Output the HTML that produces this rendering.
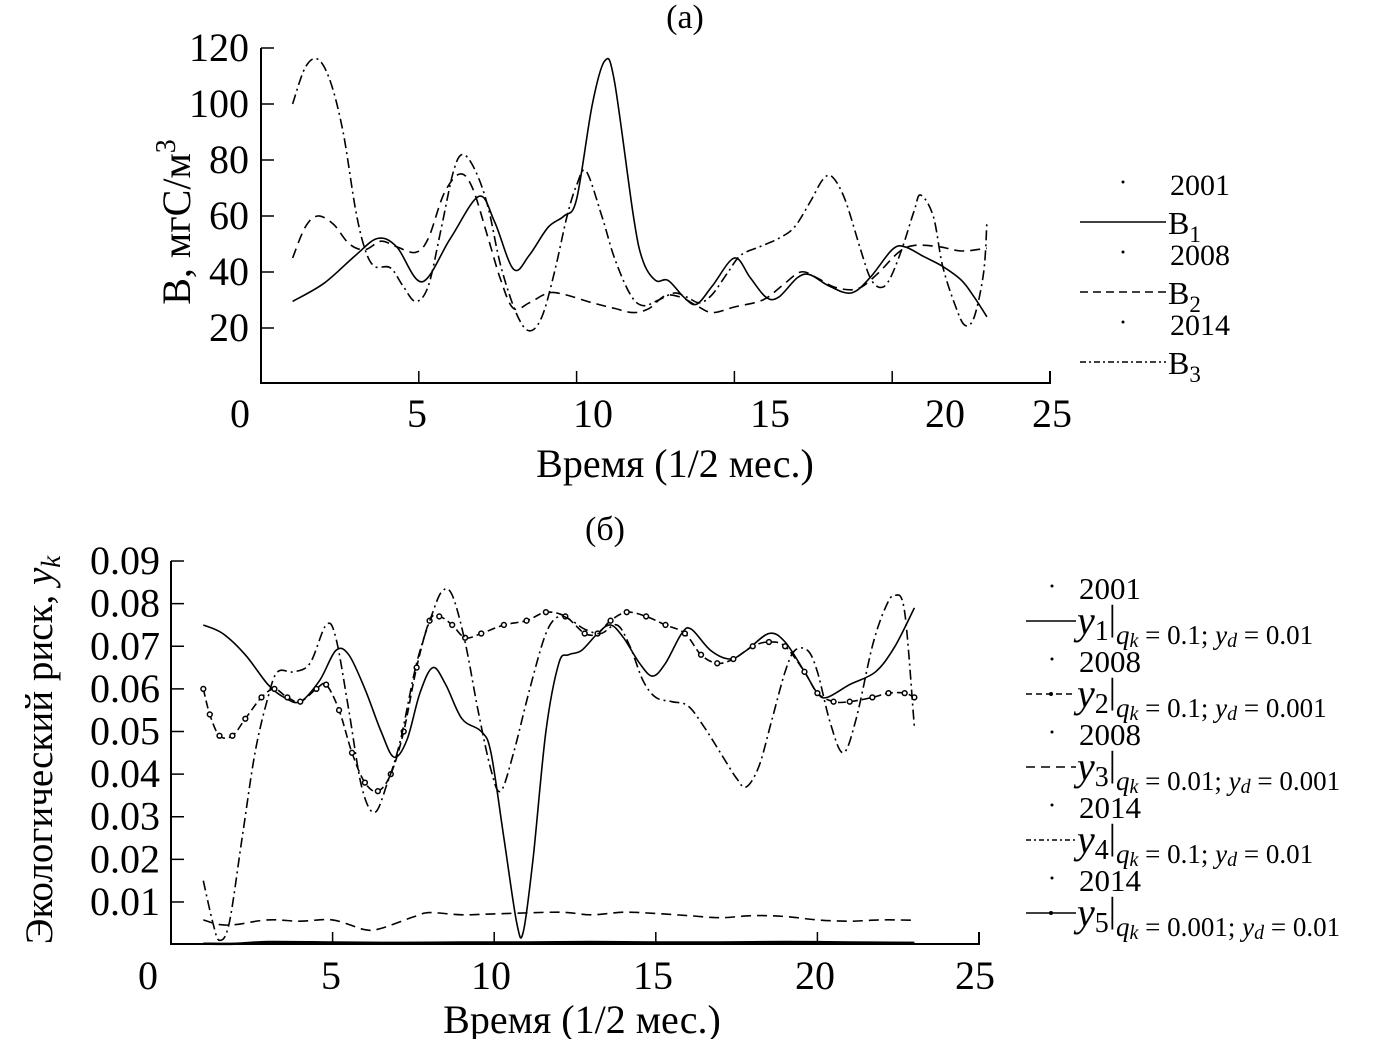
<!DOCTYPE html>
<html><head><meta charset="utf-8"><style>
html,body{margin:0;padding:0;background:#fff;}
svg{display:block;font-family:"Liberation Serif",serif;}
</style></head><body>
<svg id="chart" width="1383" height="1039" viewBox="0 0 1383 1039" xmlns="http://www.w3.org/2000/svg">
<g id="top"></g>
<g id="bot"></g>
</svg>
<script>
// ---- Chart (a) data ----
const b1T = [1.0,2,3,3.7,4.3,5.1,6,6.9,7.4,8.0,8.5,9.1,9.6,10.0,10.5,10.9,11.2,11.8,12.1,12.5,12.9,13.4,13.8,14.3,15.0,15.5,16.0,16.4,17.0,17.4,18.0,18.7,19.3,20.0,20.4,21.0,21.6,22.2,22.6,23.0];
const b1V = [29.5,36,46,52,49,36.5,52,67,58,41,46,56,60,66,100,115.5,108,60,44,37,37,31,28.5,35,45,38,31,31,38,39,35,32.5,38,48,49,45.5,42,37,31,24];
const b2T = [1.0,1.4,1.8,2.3,2.8,3.3,3.8,4.3,4.9,5.3,5.8,6.3,6.7,7.2,7.6,8.0,8.5,9.1,9.6,10.5,11.2,11.8,12.3,12.8,13.3,13.8,14.3,15.0,15.9,16.5,17.1,17.6,18.2,18.9,19.5,20.2,20.7,21.5,22.2,23.0];
const b2V = [45,56,60,57,50,48,51,49,47,52,68,75,70,52,37,27,29,32.5,32,29,27,25.5,27,31.5,31,28,25.5,27.5,30,35,40,38,34.5,34,39,47,49.5,49,47.5,48.5];
const b3T = [1.0,1.4,1.8,2.2,2.6,3.0,3.3,3.6,4.1,4.5,4.9,5.3,5.7,6.1,6.4,6.8,7.2,7.6,8.1,8.5,8.9,9.3,9.7,10.0,10.3,10.8,11.2,11.7,12.1,12.6,13.1,13.5,13.9,14.3,14.8,15.2,15.8,16.4,16.9,17.4,17.8,18.1,18.5,19.0,19.3,19.6,19.9,20.3,20.7,20.9,21.3,21.6,22.0,22.3,22.6,22.9,23.0];
const b3V = [100,113,116,108,90,62,48,42,41.5,35,29.5,35,55,76,82,76,63,42,25,19,24,40,60,71,76,60,45,32,28,30,32.5,31,29,32,40,46,49,52,56,65,73,74,66,48,38,34.5,37,48,62,67.5,60,42,28,21,24,40,58];
const aYTicks = [20,40,60,80,100,120];
const aXTickLabels = ["0","5","10","15","20","25"];

// ---- Chart (b) data ----
const y1T = [1,1.6,2.3,3.0,3.5,4.0,4.6,5.1,5.5,6.0,6.5,6.9,7.3,7.7,8.1,8.5,9.0,9.6,9.9,10.3,10.7,10.9,11.2,11.6,12.0,12.3,12.7,13.2,13.6,14.0,14.5,14.9,15.3,15.8,16.1,16.7,17.3,17.8,18.5,19.0,19.6,20.0,20.3,21.0,21.8,22.4,23.0];
const y1V = [0.075,0.073,0.068,0.061,0.058,0.057,0.062,0.069,0.068,0.060,0.050,0.044,0.048,0.059,0.065,0.061,0.053,0.050,0.045,0.025,0.005,0.003,0.020,0.050,0.066,0.068,0.069,0.073,0.075,0.072,0.066,0.063,0.066,0.073,0.074,0.069,0.067,0.069,0.073,0.071,0.064,0.059,0.058,0.061,0.064,0.070,0.079];
const y2T = [1,1.2,1.5,1.9,2.3,2.8,3.2,3.6,4.0,4.5,4.8,5.2,5.6,6.0,6.4,6.8,7.2,7.6,8.0,8.3,8.7,9.1,9.6,10.3,11.0,11.6,12.2,12.8,13.2,13.6,14.1,14.7,15.3,15.9,16.4,16.9,17.4,18.0,18.5,19.0,19.6,20.0,20.5,21.0,21.7,22.2,22.7,23.0];
const y2V = [0.060,0.054,0.049,0.049,0.053,0.058,0.060,0.058,0.057,0.060,0.061,0.055,0.045,0.038,0.036,0.040,0.050,0.065,0.076,0.077,0.075,0.072,0.073,0.075,0.076,0.078,0.077,0.073,0.073,0.076,0.078,0.077,0.075,0.073,0.068,0.066,0.067,0.070,0.071,0.070,0.064,0.059,0.057,0.057,0.058,0.059,0.059,0.058];
const y3T = [1,1.5,2,3,4,5,6,6.5,7.5,8,9,10,12,13,14,15,16,17,18,19,20,21,22,23];
const y3V = [0.0058,0.0047,0.0047,0.0058,0.0055,0.0058,0.0035,0.0038,0.0065,0.0075,0.007,0.0072,0.0076,0.007,0.0076,0.0073,0.0068,0.0063,0.0068,0.0066,0.0058,0.0055,0.0058,0.0057];
const y4T = [1,1.3,1.5,1.8,2.2,2.6,3.0,3.3,3.8,4.3,4.8,5.1,5.5,5.9,6.3,6.7,7.1,7.6,8.1,8.4,8.7,9.1,9.5,9.9,10.2,10.6,11.1,11.6,12.0,12.4,12.8,13.3,13.8,14.2,14.6,15.0,15.5,16.0,16.5,17.0,17.5,17.8,18.2,18.6,19.0,19.3,19.7,20.0,20.4,20.8,21.2,21.7,22.1,22.4,22.7,23.0];
const y4V = [0.015,0.005,0.001,0.005,0.025,0.045,0.058,0.064,0.064,0.066,0.075,0.072,0.055,0.037,0.031,0.038,0.048,0.066,0.078,0.083,0.082,0.071,0.055,0.041,0.036,0.045,0.060,0.073,0.077,0.076,0.074,0.073,0.075,0.070,0.062,0.058,0.057,0.056,0.051,0.045,0.039,0.037,0.042,0.053,0.064,0.069,0.069,0.064,0.052,0.045,0.053,0.070,0.079,0.082,0.078,0.051];
const y5T = [1,2,3,5,7,9,11,13,15,17,19,21,23];
const y5V = [0.0002,0.0002,0.0006,0.0005,0.0004,0.0005,0.0005,0.0006,0.0005,0.0005,0.0006,0.0005,0.0004];
const bYTicks = [0.01,0.02,0.03,0.04,0.05,0.06,0.07,0.08,0.09];
const bXTickLabels = ["0","5","10","15","20","25"];

const NS="http://www.w3.org/2000/svg";
function mk(parent,tag,attrs,text){const e=document.createElementNS(NS,tag);for(const k in attrs)e.setAttribute(k,attrs[k]);if(text!==undefined)e.textContent=text;parent.appendChild(e);return e;}
function smooth(pts){let d="M"+pts[0][0].toFixed(1)+","+pts[0][1].toFixed(1);for(let i=0;i<pts.length-1;i++){const p0=pts[i-1]||pts[i],p1=pts[i],p2=pts[i+1],p3=pts[i+2]||p2;const c1=[p1[0]+(p2[0]-p0[0])/6,p1[1]+(p2[1]-p0[1])/6],c2=[p2[0]-(p3[0]-p1[0])/6,p2[1]-(p3[1]-p1[1])/6];d+="C"+c1[0].toFixed(1)+","+c1[1].toFixed(1)+" "+c2[0].toFixed(1)+","+c2[1].toFixed(1)+" "+p2[0].toFixed(1)+","+p2[1].toFixed(1);}return d;}

// ---- Chart (a) ----
(function(){
const g=document.getElementById('top');
const X0=261,X1=1050,YB=383;
const x=t=>X0+(t/25)*(X1-X0);
const y=v=>384-(v)*2.8;
mk(g,'path',{d:`M${X0},${y(120)} V${YB} H${X1} V${YB-12}`,fill:'none',stroke:'#000','stroke-width':2});
aYTicks.forEach(v=>{mk(g,'line',{x1:X0,x2:X0+13,y1:y(v),y2:y(v),stroke:'#000','stroke-width':1.5});
 const t=mk(g,'text',{x:249,y:y(v)+13,'text-anchor':'end','font-size':40});t.textContent=v;
 });
const lp=[240,417,593,770,945,1052];
aXTickLabels.forEach((s,i)=>{ if(i>0&&i<5) mk(g,'line',{x1:x(i*5),x2:x(i*5),y1:YB,y2:YB-12,stroke:'#000','stroke-width':1.5});
 const t=mk(g,'text',{x:lp[i],y:427,'text-anchor':'middle','font-size':40},s);
 });
let t=mk(g,'text',{x:685,y:28,'text-anchor':'middle','font-size':34},'(a)');
t=mk(g,'text',{x:675,y:477,'text-anchor':'middle','font-size':40},'Время (1/2 мес.)');
t=mk(g,'text',{x:0,y:0,'text-anchor':'middle','font-size':40,transform:'translate(190,222) rotate(-90)'});
t.innerHTML='B, мгC/м<tspan dy="-15" font-size="28">3</tspan>';
const series=[[b1T,b1V,'',''],[b2T,b2V,'10 6','B2'],[b3T,b3V,'10 4 2 4','B3']];
series.forEach((s,i)=>{const p=mk(g,'path',{d:smooth(s[0].map((tt,k)=>[x(tt),y(s[1][k])])),fill:'none',stroke:'#000','stroke-width':1.6,'stroke-dasharray':s[2]});
 });
const years=['2001','2008','2014'],dash=['','8 5','6 3 2 3'];
for(let i=0;i<3;i++){const yy=185+i*70;
 mk(g,'circle',{cx:1123,cy:yy-3,r:1.5,fill:'#000'});
 let e=mk(g,'text',{x:1170,y:yy+10,'font-size':30},years[i]);
 mk(g,'line',{x1:1080,x2:1166,y1:yy+37,y2:yy+37,stroke:'#000','stroke-width':1.5,'stroke-dasharray':dash[i]});
 e=mk(g,'text',{x:1168,y:yy+49,'font-size':32});e.innerHTML='B<tspan dy="8" font-size="23">'+(i+1)+'</tspan>';
 }
})();

// ---- Chart (b) ----
(function(){
const g=document.getElementById('bot');
const X0=171,X1=979,YB=944;
const x=t=>X0+(t/25)*(X1-X0);
const y=v=>944.6-v*4262;
mk(g,'path',{d:`M${X0},${y(0.09)} V${YB} H${X1} V${YB-12}`,fill:'none',stroke:'#000','stroke-width':2});
bYTicks.forEach(v=>{mk(g,'line',{x1:X0,x2:X0+13,y1:y(v),y2:y(v),stroke:'#000','stroke-width':1.5});
 const t=mk(g,'text',{x:160,y:y(v)+13,'text-anchor':'end','font-size':40},v.toFixed(2));
 });
const lp=[148,331,491,653,815,975];
bXTickLabels.forEach((s,i)=>{ if(i>0&&i<5) mk(g,'line',{x1:x(i*5),x2:x(i*5),y1:YB,y2:YB-12,stroke:'#000','stroke-width':1.5});
 const t=mk(g,'text',{x:lp[i],y:989,'text-anchor':'middle','font-size':40},s);
 });
let t=mk(g,'text',{x:605,y:540,'text-anchor':'middle','font-size':34},'(б)');
t=mk(g,'text',{x:582,y:1033,'text-anchor':'middle','font-size':40},'Время (1/2 мес.)');
t=mk(g,'text',{x:0,y:0,'text-anchor':'middle','font-size':39,transform:'translate(52,750) rotate(-90)'});
t.innerHTML='Экологический риск, <tspan font-style="italic">y</tspan><tspan dy="8" font-size="27" font-style="italic">k</tspan>';

const series=[[y1T,y1V,'',false],[y2T,y2V,'8 4',true],[y3T,y3V,'10 6',false],[y4T,y4V,'10 4 2 4',false],[y5T,y5V,'',true]];
series.forEach((s,i)=>{const pts=s[0].map((tt,k)=>[x(tt),y(s[1][k])]);
 const p=mk(g,'path',{d:smooth(pts),fill:'none',stroke:'#000','stroke-width':i==4?2.5:1.6,'stroke-dasharray':s[2]});
 
 if(s[3]&&i!=4){pts.forEach(q=>{const c=mk(g,'circle',{cx:q[0],cy:q[1],r:2.4,fill:'#fff',stroke:'#000','stroke-width':1.5});
  });}
});
const years=['2001','2008','2008','2014','2014'],dash=['','6 4','9 6','5 3 2 3',''];
const subs=[['1','0.1','0.01'],['2','0.1','0.001'],['3','0.01','0.001'],['4','0.1','0.01'],['5','0.001','0.01']];
for(let i=0;i<5;i++){const yy=588+i*73;
 mk(g,'circle',{cx:1052,cy:yy-2,r:1.5,fill:'#000'});
 let e=mk(g,'text',{x:1079,y:yy+11,'font-size':31},years[i]);
 mk(g,'line',{x1:1026,x2:1076,y1:yy+33,y2:yy+33,stroke:'#000','stroke-width':1.5,'stroke-dasharray':dash[i]});
 if(i==1||i==4) mk(g,'circle',{cx:1051,cy:yy+33,r:2,fill:'#000'});
 e=mk(g,'text',{x:1077,y:yy+46,'font-size':27});
 e.innerHTML='<tspan font-size="40" font-style="italic">y</tspan><tspan font-size="28" dy="6">'+subs[i][0]+'</tspan><tspan font-size="36" dy="-10">|</tspan><tspan dy="14" font-style="italic">q</tspan><tspan font-style="italic" font-size="20" dy="3">k</tspan><tspan dy="-3"> = '+subs[i][1]+'; </tspan><tspan font-style="italic">y</tspan><tspan font-style="italic" font-size="20" dy="3">d</tspan><tspan dy="-3"> = '+subs[i][2]+'</tspan>';
 }
})();
</script>
</body></html>
